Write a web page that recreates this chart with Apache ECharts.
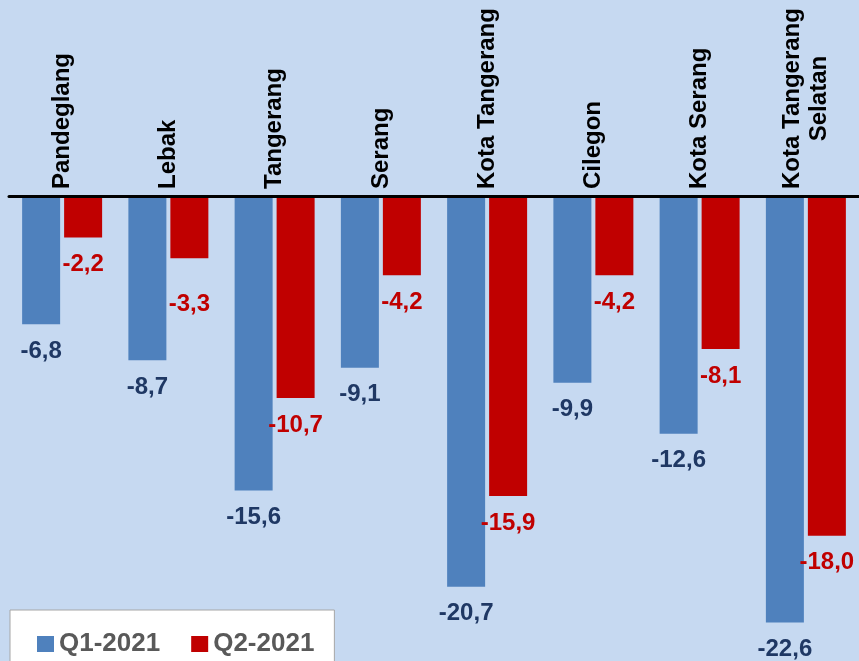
<!DOCTYPE html>
<html>
<head>
<meta charset="utf-8">
<script src="https://cdn.jsdelivr.net/npm/echarts@6/dist/echarts.min.js"></script>
<style>
html,body{margin:0;padding:0;background:#c6d9f1}
#chart{width:859px;height:661px}
</style>
</head>
<body>
<div id="chart"></div>
<script>
var categories = ['Pandeglang', 'Lebak', 'Tangerang', 'Serang', 'Kota Tangerang', 'Cilegon', 'Kota Serang', 'Kota Tangerang\nSelatan'];
var seriesNames = ['Q1-2021', 'Q2-2021'];
var q1 = [-6.8, -8.7, -15.6, -9.1, -20.7, -9.9, -12.6, -22.6];
var q2 = [-2.2, -3.3, -10.7, -4.2, -15.9, -4.2, -8.1, -18.0];

var font = "'Liberation Sans', Arial, sans-serif";

function fmt(p) {
    return p.value.toFixed(1).replace('.', ',');
}

// the -3,3 label sits lower in the original
var q2Items = q2.map(function (v, i) {
    return i === 1 ? { value: v, label: { distance: 34 } } : v;
});

var chart = echarts.init(document.getElementById('chart'));
chart.setOption({
    backgroundColor: '#c6d9f1',
    animation: false,
    grid: {
        left: 9,
        right: 0,
        top: 196,
        bottom: 12,
        outerBoundsMode: 'none'
    },
    legend: {
        left: 10,
        top: 610,
        padding: [21, 20, 30, 27],
        backgroundColor: '#fff',
        borderColor: '#a6a6a6',
        borderWidth: 1,
        itemWidth: 17,
        itemHeight: 16,
        itemGap: 31,
        icon: 'rect',
        data: seriesNames,
        textStyle: {
            fontSize: 26,
            fontWeight: 'bold',
            color: '#595959',
            fontFamily: font
        }
    },
    xAxis: {
        type: 'category',
        position: 'top',
        data: categories,
        z: 10,
        axisLine: {
            onZero: false,
            lineStyle: { color: '#000', width: 3 }
        },
        axisTick: { show: false },
        axisLabel: {
            rotate: -90,
            interval: 0,
            margin: 7,
            formatter: function (v) {
                return v.split('\n').map(function (s) { return '{c|' + s + '}'; }).join('\n');
            },
            rich: {
                c: {
                    align: 'center',
                    fontSize: 24,
                    fontWeight: 'bold',
                    color: '#000',
                    lineHeight: 27,
                    fontFamily: font
                }
            }
        }
    },
    yAxis: {
        type: 'value',
        min: -24,
        max: 0,
        show: false,
        splitLine: { show: false }
    },
    series: [
        {
            name: seriesNames[0],
            type: 'bar',
            data: q1,
            barWidth: 38,
            barGap: '10.5%',
            itemStyle: { color: '#4f81bd' },
            label: {
                show: true,
                position: 'bottom',
                distance: 15,
                formatter: fmt,
                fontSize: 24,
                fontWeight: 'bold',
                color: '#1f3864',
                fontFamily: font
            }
        },
        {
            name: seriesNames[1],
            type: 'bar',
            data: q2Items,
            barWidth: 38,
            itemStyle: { color: '#c00000' },
            label: {
                show: true,
                position: 'bottom',
                distance: 15,
                formatter: fmt,
                fontSize: 24,
                fontWeight: 'bold',
                color: '#c00000',
                fontFamily: font
            }
        }
    ]
});
</script>
</body>
</html>
